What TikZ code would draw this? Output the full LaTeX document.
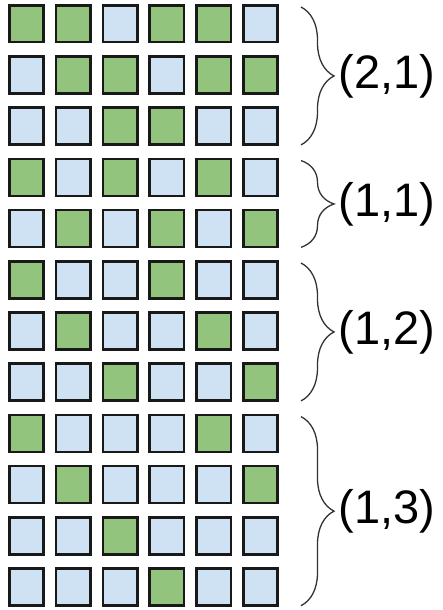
\documentclass[tikz,border=0pt]{standalone}
\usepackage{fontspec}
\setmainfont{Liberation Sans}
\usetikzlibrary{decorations.pathreplacing,calc}
\definecolor{sqG}{HTML}{93C47D}
\definecolor{sqB}{HTML}{CFE2F3}
\tikzset{
  cell/.style={draw=black!90, line width=2.6pt, minimum width=34.4pt, minimum height=36.9pt, inner sep=0pt},
  grp/.style={decorate, decoration={brace, amplitude=33pt}, draw=black!80, line width=1.3pt},
  grplabel/.style={midway, anchor=west, xshift=37pt, inner sep=0pt, font=\fontsize{47}{50}\selectfont}
}
\begin{document}
\begin{tikzpicture}[x=1pt, y=1pt]
\useasboundingbox (0,0) rectangle (443,-610);
% rows of cells
\foreach \pat [count=\r] in {
  {G,G,B,G,G,B}, {B,G,G,B,G,G}, {B,B,G,G,B,B},
  {G,B,G,B,G,B}, {B,G,B,G,B,G},
  {G,B,B,G,B,B}, {B,G,B,B,G,B}, {B,B,G,B,B,G},
  {G,B,B,B,G,B}, {B,G,B,B,B,G}, {B,B,G,B,B,B}, {B,B,B,G,B,B}}
  \foreach \c [count=\col] in \pat
    \node[cell, fill=sq\c] (c-\r-\col) at ({26.5+46.8*(\col-1)}, {-23.75-51.2*(\r-1)}) {};
% braces
\draw[grp] ($(c-1-6.north east)+(22,-3)$) -- node[grplabel] {(2,1)} ($(c-3-6.south east)+(22,1)$);
\draw[grp] ($(c-4-6.north east)+(22,-3)$) -- node[grplabel] {(1,1)} ($(c-5-6.south east)+(22,1)$);
\draw[grp] ($(c-6-6.north east)+(22,-3)$) -- node[grplabel] {(1,2)} ($(c-8-6.south east)+(22,1)$);
\draw[grp] ($(c-9-6.north east)+(22,-3)$) -- node[grplabel] {(1,3)} ($(c-12-6.south east)+(22,1)$);
\end{tikzpicture}
\end{document}
